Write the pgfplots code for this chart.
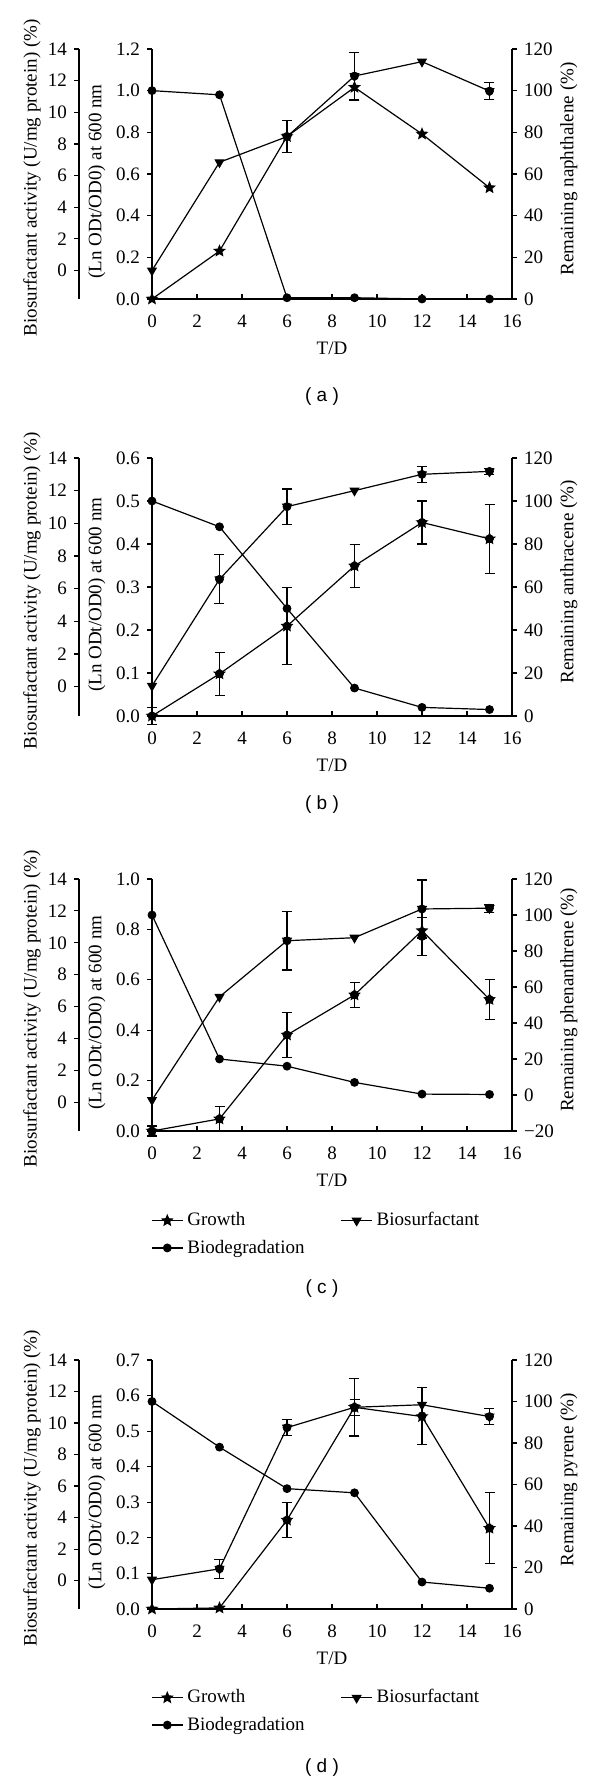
\documentclass[border=0pt]{standalone}
\usepackage{pgfplots}
\pgfplotsset{compat=1.18}
\usepackage{fontspec}
\setmainfont{Liberation Serif}
\newfontfamily\sansf{Liberation Sans}

\pgfdeclareplotmark{fstar}{%
 \pgfpathmoveto{\pgfpointpolar{90}{\pgfplotmarksize}}%
 \pgfpathlineto{\pgfpointpolar{126}{0.45\pgfplotmarksize}}%
 \pgfpathlineto{\pgfpointpolar{162}{\pgfplotmarksize}}%
 \pgfpathlineto{\pgfpointpolar{198}{0.45\pgfplotmarksize}}%
 \pgfpathlineto{\pgfpointpolar{234}{\pgfplotmarksize}}%
 \pgfpathlineto{\pgfpointpolar{270}{0.45\pgfplotmarksize}}%
 \pgfpathlineto{\pgfpointpolar{306}{\pgfplotmarksize}}%
 \pgfpathlineto{\pgfpointpolar{342}{0.45\pgfplotmarksize}}%
 \pgfpathlineto{\pgfpointpolar{18}{\pgfplotmarksize}}%
 \pgfpathlineto{\pgfpointpolar{54}{0.45\pgfplotmarksize}}%
 \pgfpathclose
 \pgfusepathqfillstroke}

\newcommand\fs{\fontsize{9.5}{11}\selectfont}

\pgfplotsset{
 base/.style={scale only axis, clip=false, xmin=0, xmax=16,
   tick label style={font=\fs},
   label style={font=\fs},
   /pgf/number format/assume math mode=true,
   major tick length=2.5pt,
   tick style={black, line width=0.6pt},
   axis line style={line width=0.6pt},
   tick align=outside,
 },
 inner/.style={base, width=180pt, axis x line*=bottom, axis y line*=left,
   xtick={0,2,4,6,8,10,12,14,16}, xtick style={yshift=2.5pt},
   xticklabel style={yshift=-2pt},
   yticklabel style={/pgf/number format/.cd, fixed, fixed zerofill, precision=1},
   ylabel={(Ln ODt/OD0) at 600 nm},
   ylabel style={at={(axis description cs:-0.153,0.47)}, anchor=center},
   xlabel={T/D},
   xlabel style={at={(axis description cs:0.5,0)}, yshift=-24.5pt, anchor=center},
 },
 outer/.style={base, width=216.5pt, xmin=-3.244, axis x line=none, axis y line*=left,
   ymin=-1.8, ymax=14, ytick={0,2,4,6,8,10,12,14},
   ylabel={Biosurfactant activity (U/mg protein) (\%)},
   ylabel style={at={(axis description cs:-0.1085,0.485)}, anchor=center},
 },
 right/.style={base, width=180pt, axis x line=none, axis y line*=right,
   ylabel style={at={(axis description cs:1.158,0.52)}, anchor=center},
 },
 gro/.style={black, line width=0.6pt, mark=fstar, mark size=2.6pt, mark options={solid}},
 bio/.style={black, line width=0.6pt, mark=triangle*, mark size=2.4pt, mark options={rotate=180}},
 deg/.style={black, line width=0.6pt, mark=*, mark size=1.9pt},
 errb/.style={black, only marks, mark=none, forget plot,
   error bars/.cd, y dir=both, y explicit,
   error bar style={line width=0.6pt},
   error mark options={line width=0.6pt, mark size=2.5pt, rotate=90}},
 leg/.style={legend columns=2, legend cell align=left,
   legend image code/.code={\draw[mark repeat=2,mark phase=2,##1] plot coordinates {(0pt,0pt) (7.75pt,0pt) (15.5pt,0pt)};},
   legend style={at={(axis description cs:-0.02,-0.29)}, anchor=north west,
     draw=none, fill=none, font=\fs, row sep=1.5pt,
     /tikz/every even column/.append style={column sep=16pt}}},
}

\begin{document}
\begin{tikzpicture}
\useasboundingbox (0,0) rectangle (300pt,892pt);

% ---------------- panel (a) ----------------
\begin{axis}[outer, at={(39.5pt,742.5pt)}, anchor=south west, height=125pt]
\addplot[bio] coordinates {(0,0.0) (3,6.84) (6,8.46) (9,12.29) (12,13.20) (15,11.34)};
\addplot[errb] coordinates {(9,12.29) +- (0,1.51) (15,11.34) +- (0,0.53)};
\end{axis}
\begin{axis}[inner, at={(76pt,742.5pt)}, anchor=south west, height=125pt,
  ymin=0, ymax=1.2, ytick={0,0.2,0.4,0.6,0.8,1.0,1.2}]
\addplot[gro] coordinates {(0,0) (3,0.23) (6,0.78) (9,1.016) (12,0.792) (15,0.534)};
\addplot[errb] coordinates {(6,0.78) +- (0,0.078)};
\end{axis}
\begin{axis}[right, at={(76pt,742.5pt)}, anchor=south west, height=125pt,
  ymin=0, ymax=120, ytick={0,20,40,60,80,100,120}, ylabel={Remaining naphthalene (\%)}]
\addplot[deg] coordinates {(0,100) (3,98) (6,0.6) (9,0.6) (12,0) (15,0)};
\end{axis}
\node[font=\sansf\fs] at (161pt,693.5pt) {( a )};

% ---------------- panel (b) ----------------
\begin{axis}[outer, at={(39.5pt,534pt)}, anchor=south west, height=129pt]
\addplot[bio] coordinates {(0,0.04) (3,6.57) (6,11.02) (9,12.0) (12,13.0) (15,13.18)};
\addplot[errb] coordinates {(3,6.57) +- (0,1.5) (6,11.02) +- (0,1.08) (12,13.0) +- (0,0.5) (15,13.18) +- (0,0.2)};
\end{axis}
\begin{axis}[inner, at={(76pt,534pt)}, anchor=south west, height=129pt,
  ymin=0, ymax=0.6, ytick={0,0.1,0.2,0.3,0.4,0.5,0.6}]
\addplot[gro] coordinates {(0,0) (3,0.098) (6,0.209) (9,0.349) (12,0.45) (15,0.412)};
\addplot[errb] coordinates {(0,0) +- (0,0.02) (3,0.098) +- (0,0.05) (6,0.209) +- (0,0.09) (9,0.349) +- (0,0.05) (12,0.45) +- (0,0.05) (15,0.412) +- (0,0.08)};
\end{axis}
\begin{axis}[right, at={(76pt,534pt)}, anchor=south west, height=129pt,
  ymin=0, ymax=120, ytick={0,20,40,60,80,100,120}, ylabel={Remaining anthracene (\%)}]
\addplot[deg] coordinates {(0,100) (3,88) (6,50) (9,13) (12,4) (15,3)};
\end{axis}
\node[font=\sansf\fs] at (161pt,489.5pt) {( b )};

% ---------------- panel (c) ----------------
\begin{axis}[outer, at={(39.5pt,326.5pt)}, anchor=south west, height=126pt]
\addplot[bio] coordinates {(0,0.14) (3,6.61) (6,10.13) (9,10.32) (12,12.12) (15,12.17)};
\addplot[errb] coordinates {(6,10.13) +- (0,1.83) (12,12.12) +- (0,1.82) (15,12.17) +- (0,0.25)};
\end{axis}
\begin{axis}[inner, at={(76pt,326.5pt)}, anchor=south west, height=126pt,
  ymin=0, ymax=1.0, ytick={0,0.2,0.4,0.6,0.8,1.0}]
\addplot[gro] coordinates {(0,0) (3,0.048) (6,0.381) (9,0.54) (12,0.795) (15,0.522)};
\addplot[errb] coordinates {(0,0) +- (0,0.02) (3,0.048) +- (0,0.05) (6,0.381) +- (0,0.09) (9,0.54) +- (0,0.05) (12,0.772) +- (0,0.075) (15,0.522) +- (0,0.08)};
\end{axis}
\begin{axis}[right, leg, at={(76pt,326.5pt)}, anchor=south west, height=126pt,
  ymin=-20, ymax=120, ytick={-20,0,20,40,60,80,100,120},
  yticklabels={−20,0,20,40,60,80,100,120}, ylabel={Remaining phenanthrene (\%)}]
\addlegendimage{gro}
\addlegendentry{Growth}
\addlegendimage{bio}
\addlegendentry{Biosurfactant}
\addlegendimage{deg}
\addlegendentry{Biodegradation}
\addplot[deg, forget plot] coordinates {(0,100) (3,20) (6,16) (9,7) (12,0.5) (15,0.3)};
\end{axis}
\node[font=\sansf\fs] at (161pt,247.5pt) {( c )};

% ---------------- panel (d) ----------------
\begin{axis}[outer, at={(39.5pt,87.5pt)}, anchor=south west, height=124.5pt]
\addplot[bio] coordinates {(0,0.06) (3,0.75) (6,9.71) (9,11.0) (12,11.16) (15,10.41)};
\addplot[errb] coordinates {(3,0.75) +- (0,0.59) (6,9.71) +- (0,0.52) (9,11.0) +- (0,1.82) (15,10.41) +- (0,0.5)};
\end{axis}
\begin{axis}[inner, at={(76pt,87.5pt)}, anchor=south west, height=124.5pt,
  ymin=0, ymax=0.7, ytick={0,0.1,0.2,0.3,0.4,0.5,0.6,0.7}]
\addplot[gro] coordinates {(0,0) (3,0.003) (6,0.25) (9,0.567) (12,0.541) (15,0.227)};
\addplot[errb] coordinates {(6,0.25) +- (0,0.05) (9,0.567) +- (0,0.022) (12,0.543) +- (0,0.08) (15,0.227) +- (0,0.1)};
\end{axis}
\begin{axis}[right, leg, at={(76pt,87.5pt)}, anchor=south west, height=124.5pt,
  ymin=0, ymax=120, ytick={0,20,40,60,80,100,120}, ylabel={Remaining pyrene (\%)}]
\addlegendimage{gro}
\addlegendentry{Growth}
\addlegendimage{bio}
\addlegendentry{Biosurfactant}
\addlegendimage{deg}
\addlegendentry{Biodegradation}
\addplot[deg, forget plot] coordinates {(0,100) (3,78) (6,58) (9,56) (12,13) (15,10)};
\end{axis}
\node[font=\sansf\fs] at (161pt,8pt) {( d )};

\end{tikzpicture}
\end{document}
